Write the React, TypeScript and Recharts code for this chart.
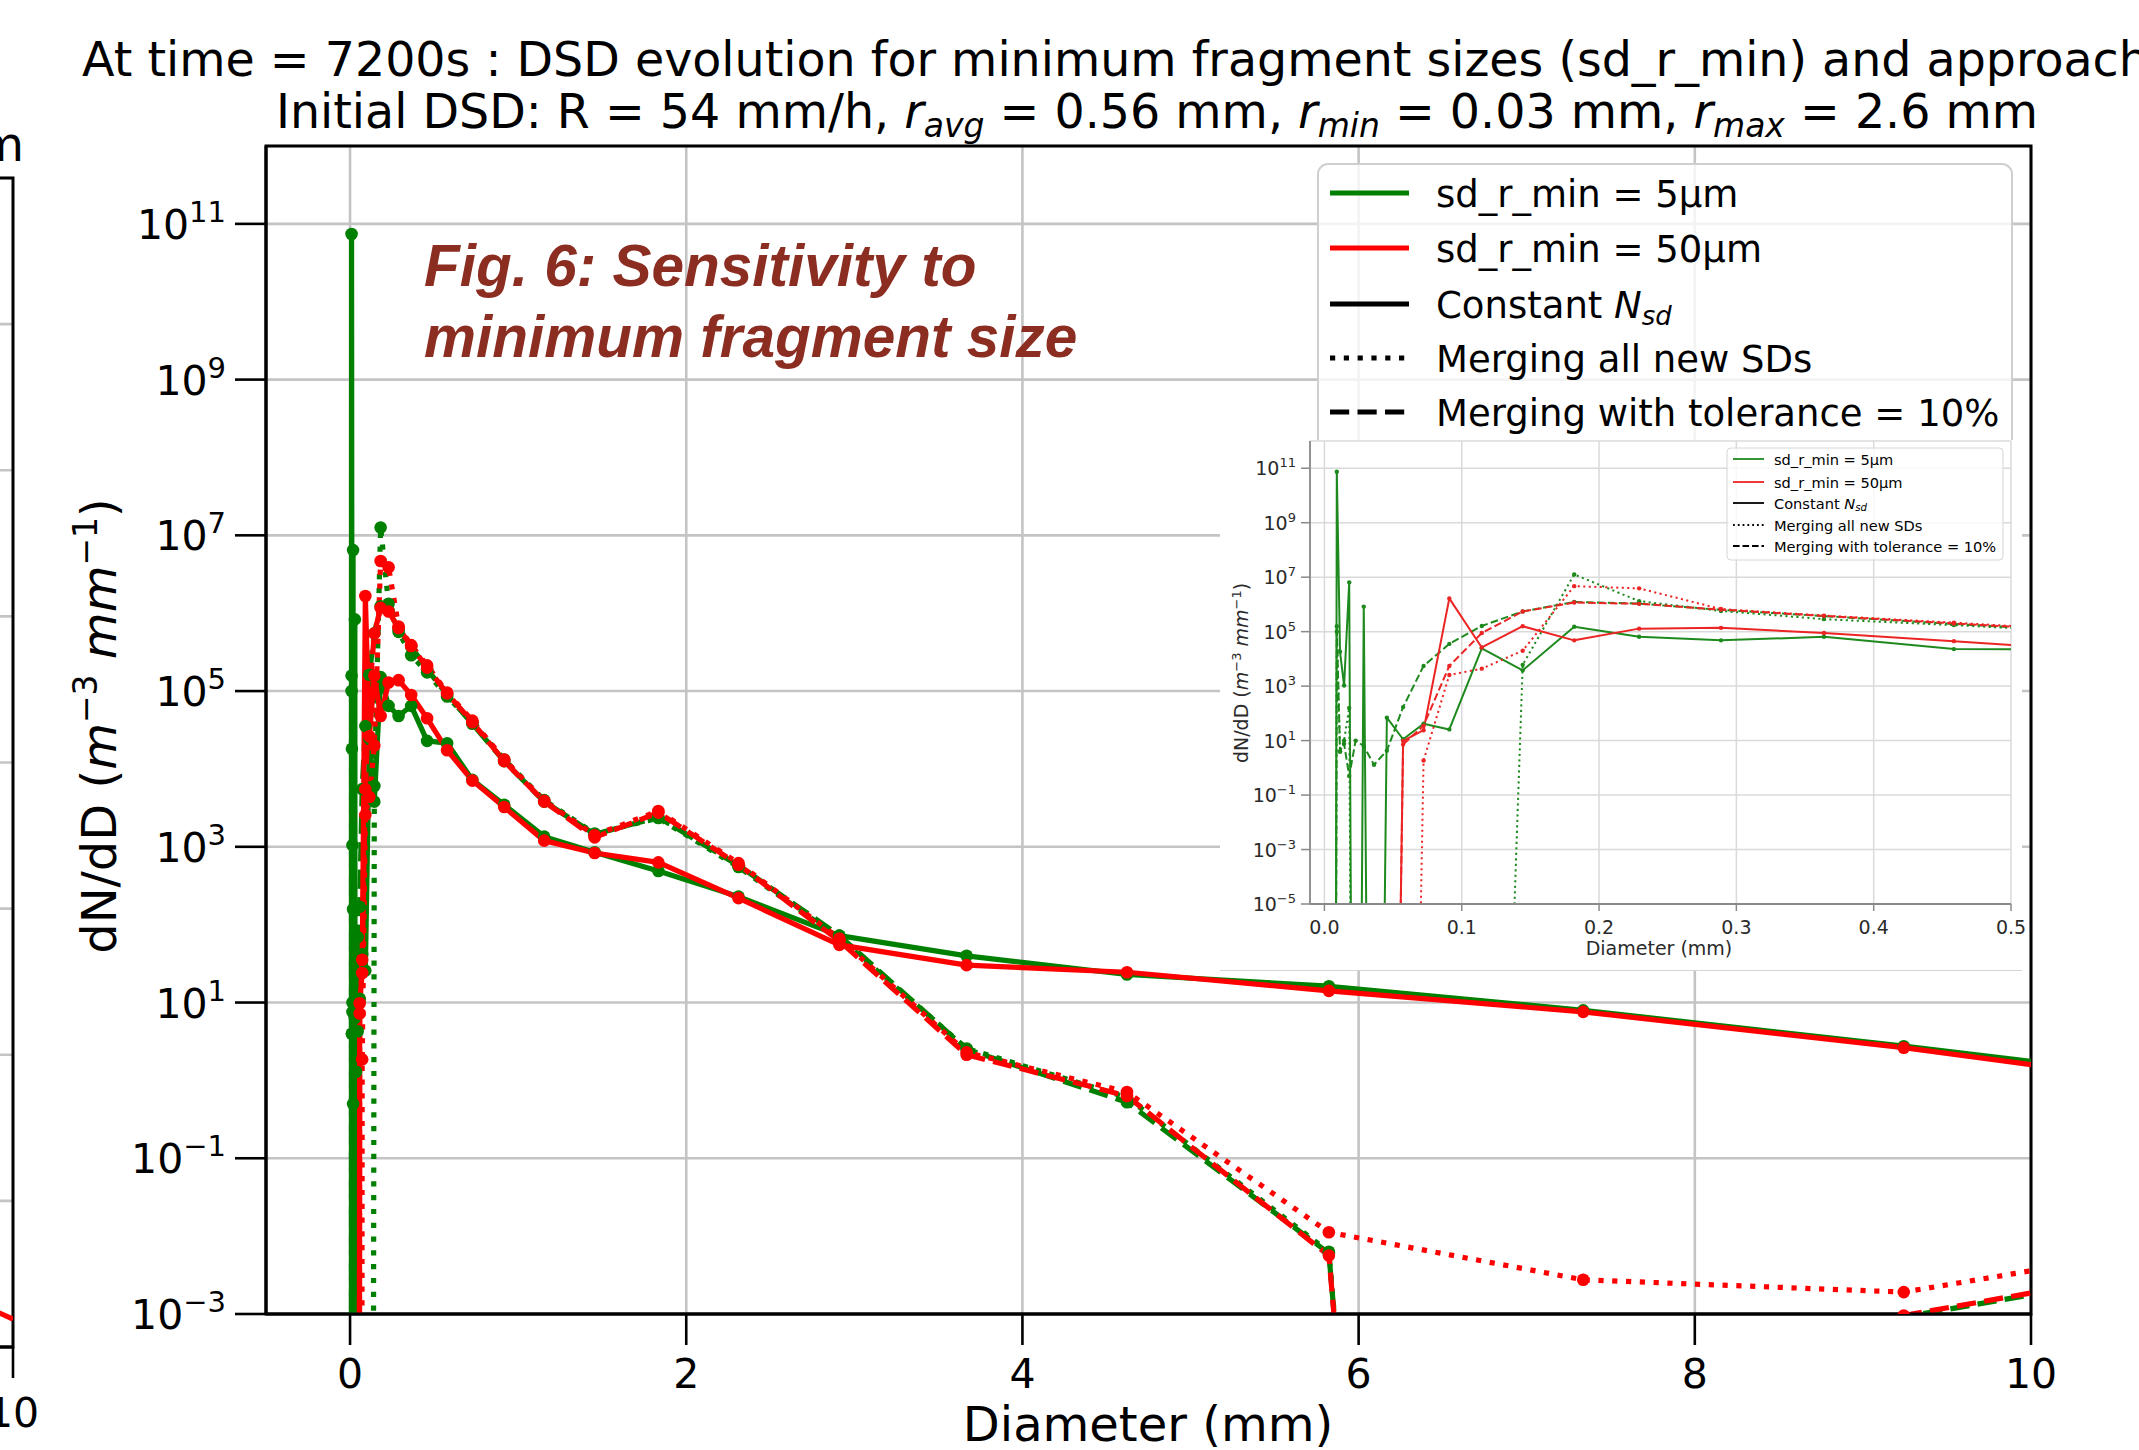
import React from 'react';
import { LineChart, Line, XAxis, YAxis, CartesianGrid, ReferenceArea } from 'recharts';

// ---------- data ----------
const diameters = [0.00716, 0.00902, 0.01137, 0.01432, 0.01805, 0.02274, 0.02865, 0.0361, 0.04548, 0.0573, 0.0722, 0.09095, 0.1146, 0.1444, 0.1819, 0.2292, 0.2888, 0.3638, 0.4584, 0.5775, 0.7276, 0.9168, 1.155, 1.455, 1.834, 2.311, 2.911, 3.668, 4.622, 5.823, 7.336, 9.243, 11.64];

const green5Constant = [0, 7.41e10, 1.82e4, 1.05e3, 6.46e6, 0, 8.32e5, 0, 69.2, 11.2, 41.7, 25.7, 2.45e4, 3.8e3, 1.51e5, 6.46e4, 4.79e4, 6.46e4, 2.29e4, 2.14e4, 7.24e3, 3.47e3, 1.35e3, 851, 490, 229, 72.4, 39.8, 22.9, 16.2, 7.94, 2.75, 0.66];
const green5MergeAll = [0, 1.0e5, 3.98, 10, 158, 0, 0, 0, 0, 0, 0, 0, 0, 6.03e3, 1.26e7, 1.32e6, 5.75e5, 2.88e5, 1.74e5, 8.51e4, 3.98e4, 1.32e4, 3.98e3, 1.48e3, 2.34e3, 550, 67.6, 2.57, 0.603, 6.31e-3, 0, 0, 0];
const green5MergeTol = [0, 1.58e5, 3.98, 7.59, 0.5, 10, 6.31, 1.29, 4.27, 170, 5.5e3, 3.55e4, 1.62e5, 5.5e5, 1.23e6, 1.07e6, 6.31e5, 3.72e5, 1.91e5, 8.91e4, 3.8e4, 1.26e4, 3.8e3, 1.45e3, 2.4e3, 575, 72.4, 2.51, 0.525, 6.03e-3, 0, 9.12e-4, 7.41e-3];
const red50Constant = [0, 0, 0, 0, 0, 0, 0, 0, 0, 9.77, 24, 1.66e6, 2.63e4, 1.58e5, 4.79e4, 1.29e5, 1.38e5, 8.91e4, 4.47e4, 1.74e4, 7.08e3, 3.24e3, 1.2e3, 832, 631, 219, 55, 30.2, 24.5, 14.1, 7.59, 2.63, 0.537];
const red50MergeAll = [0, 0, 0, 0, 0, 0, 0, 0, 0, 0, 1.86, 2.57e3, 4.37e3, 2.0e4, 4.68e6, 3.89e6, 6.76e5, 3.89e5, 2.14e5, 9.55e4, 4.17e4, 1.32e4, 3.89e3, 1.41e3, 2.88e3, 617, 66.1, 2.29, 0.708, 1.12e-2, 2.75e-3, 1.91e-3, 1.41e-2];
const red50MergeTol = [0, 0, 0, 0, 0, 0, 0, 0, 0, 7.24, 35.5, 5.5e3, 8.91e4, 5.5e5, 1.17e6, 1.05e6, 6.46e5, 3.8e5, 2.0e5, 9.33e4, 3.98e4, 1.26e4, 3.8e3, 1.32e3, 2.75e3, 589, 61.7, 2.14, 0.631, 5.62e-3, 0, 9.55e-4, 7.94e-3];

// neighbouring (cut-off) panel on the left
const leftPanelX = [9.0, 10.0];
const leftPanelRed = [0.49, 0.19];

const mainXTicks = [0, 2, 4, 6, 8, 10];
const mainYTicks = [1e-3, 1e-1, 1e1, 1e3, 1e5, 1e7, 1e9, 1e11];
const insetXTicks = [0, 0.1, 0.2, 0.3, 0.4, 0.5];
const insetYTicks = [1e-5, 1e-3, 1e-1, 1e1, 1e3, 1e5, 1e7, 1e9, 1e11];
const leftXTicks = [10];
const leftYTicks = [0, 1, 2, 3, 4, 5, 6, 7, 8];

const legendLabels = ['sd_r_min = 5\u00b5m', 'sd_r_min = 50\u00b5m', 'Constant', 'Merging all new SDs', 'Merging with tolerance = 10%'];

// ---------- helpers ----------
const FONT = '"DejaVu Sans", Verdana, sans-serif';
const GREEN = '#008000';
const RED = '#ff0000';
const IGREEN = '#1e8a1e';
const IRED = '#ec2424';
const FLOOR = 1e-40; // zero on a log axis -> far below the frame

const toPoints = (ys: number[]) => diameters.map((x, i) => ({ x, y: ys[i] > 0 ? ys[i] : FLOOR }));

type Style = 'solid' | 'dotted' | 'dashed';
const series: { key: string; values: number[]; color: string; icolor: string; style: Style }[] = [
  { key: 'g-const', values: green5Constant, color: GREEN, icolor: IGREEN, style: 'solid' },
  { key: 'g-all', values: green5MergeAll, color: GREEN, icolor: IGREEN, style: 'dotted' },
  { key: 'g-tol', values: green5MergeTol, color: GREEN, icolor: IGREEN, style: 'dashed' },
  { key: 'r-const', values: red50Constant, color: RED, icolor: IRED, style: 'solid' },
  { key: 'r-all', values: red50MergeAll, color: RED, icolor: IRED, style: 'dotted' },
  { key: 'r-tol', values: red50MergeTol, color: RED, icolor: IRED, style: 'dashed' },
];

const mainDash = (s: Style) => (s === 'dotted' ? '5.2 8.6' : s === 'dashed' ? '19.2 8.3' : undefined);
const insetDash = (s: Style) => (s === 'dotted' ? '2.1 3.4' : s === 'dashed' ? '7.6 3.3' : undefined);

const supText = (v: number) => {
  const e = Math.round(Math.log10(v));
  return e < 0 ? '\u2212' + Math.abs(e) : String(e);
};

function MainYTick(props: any) {
  const { x, y, payload } = props;
  return (
    <text x={x} y={y + 15} textAnchor="end" fontFamily={FONT} fontSize={41} fill="#000">
      10<tspan dy={-17} fontSize={29}>{supText(payload.value)}</tspan>
    </text>
  );
}
function MainXTick(props: any) {
  const { x, y, payload } = props;
  return (
    <text x={x} y={y} dy="0.71em" textAnchor="middle" fontFamily={FONT} fontSize={41} fill="#000">
      {String(payload.value)}
    </text>
  );
}
function InsetYTick(props: any) {
  const { x, y, payload } = props;
  return (
    <text x={x} y={y + 7} textAnchor="end" fontFamily={FONT} fontSize={19} fill="#2a2a2a">
      10<tspan dy={-8} fontSize={13}>{supText(payload.value)}</tspan>
    </text>
  );
}
function InsetXTick(props: any) {
  const { x, y, payload } = props;
  return (
    <text x={x} y={y} dy="0.71em" textAnchor="middle" fontFamily={FONT} fontSize={19} fill="#2a2a2a">
      {Number(payload.value).toFixed(1)}
    </text>
  );
}

function LegendBlock(p: { x: number; y: number; w: number; h: number; rx: number; ys: number[]; lx1: number; lx2: number; tx: number; fs: number; lw: number; dot: string; dash: string; green: string; red: string; stroke: string }) {
  const colors = [p.green, p.red, '#000', '#000', '#000'];
  const dashes = [undefined, undefined, undefined, p.dot, p.dash];
  return (
    <g>
      <rect x={p.x} y={p.y} width={p.w} height={p.h} rx={p.rx} fill="#fff" fillOpacity={0.8} stroke={p.stroke} strokeWidth={p.fs > 20 ? 2 : 1} />
      {p.ys.map((cy, i) => (
        <g key={i}>
          <line x1={p.lx1} x2={p.lx2} y1={cy} y2={cy} stroke={colors[i]} strokeWidth={p.lw} strokeDasharray={dashes[i]} />
          <text x={p.tx} y={cy + p.fs * 0.38} fontFamily={FONT} fontSize={p.fs} fill="#000" style={{ whiteSpace: 'pre' }}>
            {i === 2 ? (
              <>
                {'Constant '}
                <tspan fontStyle="italic">N</tspan>
                <tspan fontStyle="italic" fontSize={p.fs * 0.7} dy={p.fs * 0.2}>sd</tspan>
              </>
            ) : (
              legendLabels[i]
            )}
          </text>
        </g>
      ))}
    </g>
  );
}

export default function App() {
  return (
    <div style={{ position: 'absolute', left: 0, top: 0, width: 2139, height: 1450, overflow: 'hidden', background: '#fff' }}>
      {/* main chart */}
      <div style={{ position: 'absolute', left: 0, top: 0 }}>
        <LineChart width={2139} height={1450} margin={{ top: 146, right: 108, bottom: 36, left: 66 }}>
          <CartesianGrid stroke="#c4c4c4" strokeWidth={2.6} />
          <XAxis
            type="number"
            dataKey="x"
            domain={[-0.5, 10]}
            allowDataOverflow
            ticks={mainXTicks}
            interval={0}
            height={100}
            tickSize={31}
            tickMargin={14}
            axisLine={{ stroke: '#000', strokeWidth: 3 }}
            tickLine={{ stroke: '#000', strokeWidth: 2.6 }}
            tick={<MainXTick />}
          />
          <YAxis
            type="number"
            scale="log"
            domain={[1e-3, 1e12]}
            allowDataOverflow
            ticks={mainYTicks}
            interval={0}
            width={200}
            tickSize={31}
            tickMargin={9}
            axisLine={{ stroke: '#000', strokeWidth: 3 }}
            tickLine={{ stroke: '#000', strokeWidth: 2.6 }}
            tick={<MainYTick />}
          />
          {series.map((s) => (
            <Line
              key={s.key}
              data={toPoints(s.values)}
              dataKey="y"
              type="linear"
              stroke={s.color}
              strokeWidth={5.2}
              strokeDasharray={mainDash(s.style)}
              strokeLinejoin="round"
              dot={{ r: 6.3, fill: s.color, stroke: 'none', strokeWidth: 0 }}
              activeDot={false}
              isAnimationActive={false}
            />
          ))}
          <ReferenceArea x1={-0.5} x2={10} y1={1e-3} y2={1e12} ifOverflow="visible" fill="none" fillOpacity={0} stroke="#000" strokeWidth={3} />
        </LineChart>
      </div>

      {/* cut-off neighbouring panel on the left */}
      <div style={{ position: 'absolute', left: -1000, top: 0 }}>
        <LineChart width={1100} height={1450} margin={{ top: 178, right: 87, bottom: 40, left: 13 }}>
          <CartesianGrid stroke="#c4c4c4" strokeWidth={2.6} vertical={false} />
          <XAxis
            type="number"
            dataKey="x"
            domain={[-0.5, 10]}
            allowDataOverflow
            ticks={leftXTicks}
            interval={0}
            height={63}
            tickSize={31}
            tickMargin={20}
            axisLine={{ stroke: '#000', strokeWidth: 3 }}
            tickLine={{ stroke: '#000', strokeWidth: 2.6 }}
            tick={<MainXTick />}
          />
          <YAxis type="number" domain={[0, 8]} ticks={leftYTicks} allowDataOverflow hide width={0} />
          <Line
            data={leftPanelX.map((x, i) => ({ x, y: leftPanelRed[i] }))}
            dataKey="y"
            type="linear"
            stroke={RED}
            strokeWidth={5.2}
            dot={false}
            activeDot={false}
            isAnimationActive={false}
          />
          <ReferenceArea x1={-0.5} x2={10} y1={0} y2={8} ifOverflow="visible" fill="none" fillOpacity={0} stroke="#000" strokeWidth={3} />
        </LineChart>
      </div>

      {/* texts, legend */}
      <svg width={2139} height={1450} style={{ position: 'absolute', left: 0, top: 0, pointerEvents: 'none' }}>
        <text x={24} y={161} textAnchor="end" fontFamily={FONT} fontSize={47.5} fill="#000">mm</text>
        <text x={82} y={76} fontFamily={FONT} fontSize={47.5} fill="#000" style={{ whiteSpace: 'pre' }}>
          At time = 7200s : DSD evolution for minimum fragment sizes (sd_r_min) and approaches
        </text>
        <text x={1157} y={128} textAnchor="middle" fontFamily={FONT} fontSize={47.5} fill="#000" style={{ whiteSpace: 'pre' }}>
          {'Initial DSD: R = 54 mm/h, '}
          <tspan fontStyle="italic">r</tspan>
          <tspan fontStyle="italic" fontSize={33} dy={9}>avg</tspan>
          <tspan dy={-9}>{' = 0.56 mm, '}</tspan>
          <tspan fontStyle="italic">r</tspan>
          <tspan fontStyle="italic" fontSize={33} dy={9}>min</tspan>
          <tspan dy={-9}>{' = 0.03 mm, '}</tspan>
          <tspan fontStyle="italic">r</tspan>
          <tspan fontStyle="italic" fontSize={33} dy={9}>max</tspan>
          <tspan dy={-9}>{' = 2.6 mm'}</tspan>
        </text>
        <text x={1148} y={1441} textAnchor="middle" fontFamily={FONT} fontSize={48} fill="#000">Diameter (mm)</text>
        <text x={116} y={726} transform="rotate(-90 116 726)" textAnchor="middle" fontFamily={FONT} fontSize={48} fill="#000" style={{ whiteSpace: 'pre' }}>
          {'dN/dD ('}
          <tspan fontStyle="italic">m</tspan>
          <tspan fontSize={33} dy={-19}>{'\u22123'}</tspan>
          <tspan dy={19}>{' '}</tspan>
          <tspan fontStyle="italic">mm</tspan>
          <tspan fontSize={33} dy={-19}>{'\u22121'}</tspan>
          <tspan dy={19}>{')'}</tspan>
        </text>
        <text x={424} y={286} fontFamily='"Liberation Sans", Arial, sans-serif' fontWeight="bold" fontStyle="italic" fontSize={58.5} fill="#8c2d22">
          Fig. 6: Sensitivity to
        </text>
        <text x={424} y={357} fontFamily='"Liberation Sans", Arial, sans-serif' fontWeight="bold" fontStyle="italic" fontSize={58.5} fill="#8c2d22">
          minimum fragment size
        </text>
        <LegendBlock
          x={1318} y={164} w={694} h={300} rx={10}
          ys={[193, 248, 304, 358, 412]}
          lx1={1330} lx2={1409} tx={1436} fs={37} lw={5.2}
          dot="5.2 8.6" dash="19.2 8.3" green={GREEN} red={RED} stroke="#cfcfcf"
        />
      </svg>

      {/* inset */}
      <div style={{ position: 'absolute', left: 1220, top: 440, width: 802, height: 531, background: '#fff', borderBottom: '1.5px solid #d4d4d4', boxSizing: 'border-box' }}>
        <LineChart width={818} height={529} margin={{ top: 1, right: 27, bottom: 25, left: 20 }}>
          <CartesianGrid stroke="#dadada" strokeWidth={1.5} />
          <XAxis
            type="number"
            dataKey="x"
            domain={[-0.0105, 0.5]}
            allowDataOverflow
            ticks={insetXTicks}
            interval={0}
            height={40}
            tickSize={7}
            tickMargin={10}
            axisLine={{ stroke: '#8a8a8a', strokeWidth: 1.8 }}
            tickLine={{ stroke: '#8a8a8a', strokeWidth: 1.5 }}
            tick={<InsetXTick />}
          />
          <YAxis
            type="number"
            scale="log"
            domain={[1e-5, 1e12]}
            allowDataOverflow
            ticks={insetYTicks}
            interval={0}
            width={70}
            tickSize={9}
            tickMargin={5}
            axisLine={{ stroke: '#8a8a8a', strokeWidth: 1.8 }}
            tickLine={{ stroke: '#8a8a8a', strokeWidth: 1.5 }}
            tick={<InsetYTick />}
          />
          {series.map((s) => (
            <Line
              key={s.key}
              data={toPoints(s.values)}
              dataKey="y"
              type="linear"
              stroke={s.icolor}
              strokeWidth={2}
              strokeDasharray={insetDash(s.style)}
              strokeLinejoin="round"
              dot={{ r: 2.2, fill: s.icolor, stroke: 'none', strokeWidth: 0 }}
              activeDot={false}
              isAnimationActive={false}
            />
          ))}
        </LineChart>
        <svg width={802} height={531} style={{ position: 'absolute', left: 0, top: 0, pointerEvents: 'none' }}>
          <text x={439} y={515} textAnchor="middle" fontFamily={FONT} fontSize={19} fill="#2a2a2a">Diameter (mm)</text>
          <text x={28} y={233} transform="rotate(-90 28 233)" textAnchor="middle" fontFamily={FONT} fontSize={19} fill="#2a2a2a" style={{ whiteSpace: 'pre' }}>
            {'dN/dD ('}
            <tspan fontStyle="italic">m</tspan>
            <tspan fontSize={13} dy={-7.5}>{'\u22123'}</tspan>
            <tspan dy={7.5}>{' '}</tspan>
            <tspan fontStyle="italic">mm</tspan>
            <tspan fontSize={13} dy={-7.5}>{'\u22121'}</tspan>
            <tspan dy={7.5}>{')'}</tspan>
          </text>
          <LegendBlock
            x={507} y={8} w={276} h={112} rx={4}
            ys={[19, 42, 63, 85, 106]}
            lx1={513} lx2={544} tx={554} fs={14.6} lw={1.8}
            dot="1.8 3" dash="6.6 2.9" green={IGREEN} red={IRED} stroke="#d6d6d6"
          />
        </svg>
      </div>
    </div>
  );
}
